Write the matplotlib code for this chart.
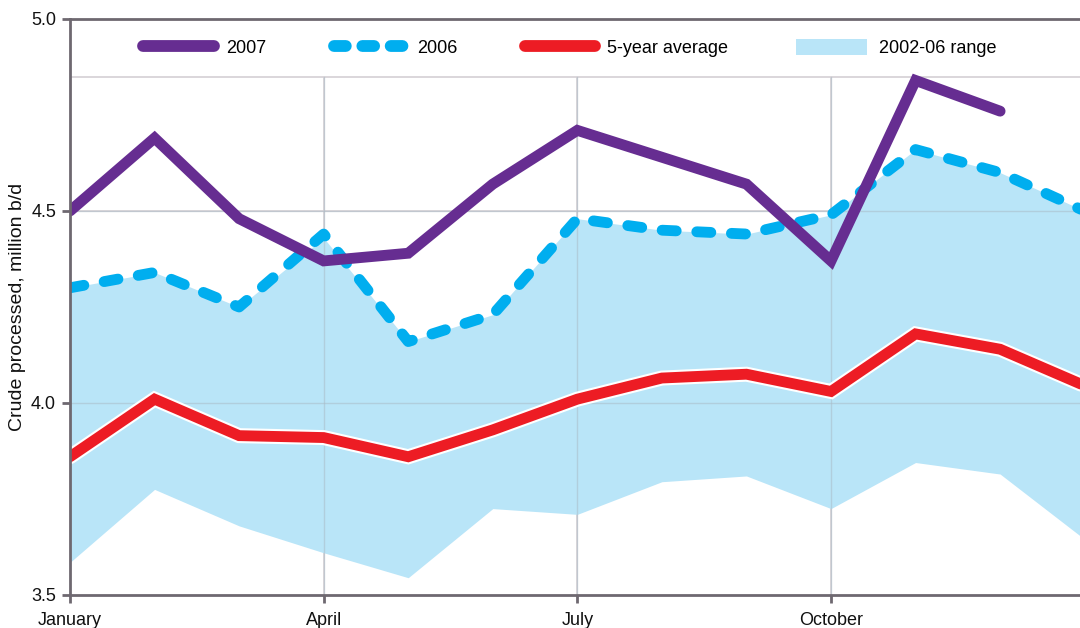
import numpy as np
import matplotlib
matplotlib.use("Agg")
import matplotlib.pyplot as plt
import matplotlib.patheffects as pe
from matplotlib.lines import Line2D
from matplotlib.patches import Patch

# ---- data ----
months = ["Jan", "Feb", "Mar", "Apr", "May", "Jun", "Jul", "Aug", "Sep", "Oct", "Nov", "Dec", "Jan+1"]
y2007 = [4.50, 4.69, 4.48, 4.37, 4.39, 4.57, 4.71, 4.64, 4.57, 4.37, 4.84, 4.76]
y2006 = [4.30, 4.34, 4.25, 4.44, 4.16, 4.23, 4.48, 4.45, 4.44, 4.49, 4.66, 4.60, 4.50]
avg5 = [3.86, 4.01, 3.915, 3.91, 3.86, 3.93, 4.01, 4.065, 4.075, 4.03, 4.18, 4.14, 4.045]
range_low = [3.585, 3.775, 3.68, 3.61, 3.545, 3.725, 3.71, 3.795, 3.81, 3.725, 3.845, 3.815, 3.645]
range_high = [4.30, 4.34, 4.25, 4.43, 4.16, 4.23, 4.48, 4.45, 4.44, 4.49, 4.66, 4.60, 4.50]
tick_pos = [0, 3, 6, 9]
tick_labels = ["January", "April", "July", "October"]
y_ticks = [3.5, 4.0, 4.5, 5.0]

# ---- style ----
PURPLE = "#662d91"
BLUE = "#00aeef"
RED = "#ed1c24"
FILL = "#b9e5f8"
SPINE = "#6e6870"
GRID = "#d4d0d4"
plt.rcParams["font.family"] = ["Liberation Sans", "DejaVu Sans"]

fig = plt.figure(figsize=(10.8, 6.28), dpi=100)
ax = fig.add_axes([70 / 1080, 1 - 595 / 628, 1 - 70 / 1080, (595 - 19) / 628])

x = np.arange(len(months))
x07 = x[:len(y2007)]

ax.fill_between(x, range_low, range_high, color=FILL, linewidth=0, zorder=1)

# grid
for t in tick_pos[1:]:
    ax.axvline(t, color=GRID, lw=1.2, zorder=0.5)
for t in y_ticks[1:-1]:
    ax.axhline(t, color=GRID, lw=1.2, zorder=0.5)
band = 4.85
ax.axhspan(band, 5.0, color="white", zorder=0.6, lw=0)
ax.axhline(band, color=GRID, lw=1.2, zorder=0.7)
# grid lines over the fill (darker where overlapping)
for t in tick_pos[1:]:
    ax.plot([t, t], [3.5, band], color="#a9b9c4", lw=1.0, zorder=1.1, alpha=0.5)
for t in y_ticks[1:-1]:
    ax.axhline(t, color="#a9b9c4", lw=1.0, zorder=1.1, alpha=0.5)

LW = 7.8
ax.plot(x, avg5, color=RED, lw=LW, solid_capstyle="round", solid_joinstyle="miter", zorder=3,
        path_effects=[pe.Stroke(linewidth=LW + 3.0, foreground="white"), pe.Normal()])
ax.plot(x, y2006, color=BLUE, lw=LW, dashes=(1.3, 1.9), dash_capstyle="round",
        dash_joinstyle="round", zorder=4)
ax.plot(x07, y2007, color=PURPLE, lw=LW, solid_capstyle="round", solid_joinstyle="miter", zorder=5)

ax.set_xlim(0, (1080 - 70) / ((831 - 70) / 9))
ax.set_ylim(3.5, 5.0)
ax.set_xticks(tick_pos)
ax.set_xticklabels(tick_labels)
ax.set_yticks(y_ticks)
ax.set_yticklabels([f"{v:.1f}" for v in y_ticks])
ax.tick_params(axis="both", direction="out", length=6, width=2, color=SPINE,
               labelsize=13, labelcolor="#111111", pad=4)
ax.tick_params(axis="x", pad=6)
for s in ["left", "bottom", "top"]:
    ax.spines[s].set_color(SPINE)
    ax.spines[s].set_linewidth(2)
    ax.spines[s].set_zorder(6)
ax.spines["right"].set_visible(False)
ax.set_ylabel("Crude processed, million b/d", fontsize=14, color="#111111", labelpad=4)

handles = [
    Line2D([], [], color=PURPLE, lw=8.5, solid_capstyle="round"),
    Line2D([], [], color=BLUE, lw=8.5, dashes=(1.0, 1.4), dash_capstyle="round"),
    Line2D([], [], color=RED, lw=8.5, solid_capstyle="round"),
    Patch(facecolor=FILL, edgecolor="none"),
]
labels = ["2007", "2006", "5-year average", "2002-06 range"]
ax.legend(handles, labels, loc="center", bbox_to_anchor=(0.495, 0.95), ncol=4, frameon=False,
          fontsize=13, handlelength=3.9, handleheight=1.0, handletextpad=0.68, columnspacing=3.75)

fig.savefig("out.png", dpi=100)
